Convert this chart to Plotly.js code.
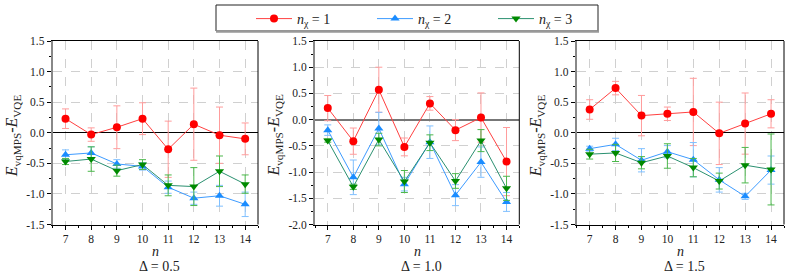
<!DOCTYPE html>
<html><head><meta charset="utf-8">
<script src="https://cdn.plot.ly/plotly-3.0.1.min.js"></script>
<style>html,body{margin:0;padding:0;background:#fff}#chart{width:792px;height:278px}</style>
</head><body><div id="chart"></div>
<script>
// ---- data ----
var nValues = [7, 8, 9, 10, 11, 12, 13, 14];
var seriesNames = ['<i>n</i><sub>χ</sub> = 1', '<i>n</i><sub>χ</sub> = 2', '<i>n</i><sub>χ</sub> = 3'];
var panelLabels = ['Δ = 0.5', 'Δ = 1.0', 'Δ = 1.5'];

var d05_chi1 = [0.23, -0.03, 0.09, 0.23, -0.27, 0.14, -0.04, -0.10];
var d05_chi1_err = [0.16, 0.11, 0.35, 0.26, 0.46, 0.59, 0.46, 0.26];
var d05_chi2 = [-0.36, -0.33, -0.51, -0.55, -0.89, -1.07, -1.03, -1.17];
var d05_chi2_err = [0.08, 0.10, 0.07, 0.06, 0.10, 0.10, 0.17, 0.20];
var d05_chi3 = [-0.47, -0.43, -0.62, -0.52, -0.86, -0.88, -0.63, -0.84];
var d05_chi3_err = [0.05, 0.20, 0.09, 0.08, 0.17, 0.31, 0.25, 0.15];

var d10_chi1 = [0.22, -0.41, 0.57, -0.52, 0.31, -0.20, 0.04, -0.80];
var d10_chi1_err = [0.24, 0.25, 0.43, 0.17, 0.13, 0.20, 0.47, 0.65];
var d10_chi2 = [-0.20, -1.10, -0.17, -1.23, -0.43, -1.44, -0.81, -1.57];
var d10_chi2_err = [0.10, 0.33, 0.31, 0.13, 0.31, 0.20, 0.29, 0.18];
var d10_chi3 = [-0.40, -1.28, -0.38, -1.18, -0.44, -1.17, -0.40, -1.31];
var d10_chi3_err = [0.03, 0.05, 0.12, 0.21, 0.15, 0.14, 0.21, 0.23];

var d15_chi1 = [0.38, 0.73, 0.28, 0.31, 0.34, -0.01, 0.15, 0.31];
var d15_chi1_err = [0.16, 0.11, 0.33, 0.11, 0.55, 0.51, 0.50, 0.23];
var d15_chi2 = [-0.26, -0.19, -0.45, -0.31, -0.44, -0.77, -1.04, -0.61];
var d15_chi2_err = [0.04, 0.10, 0.19, 0.10, 0.28, 0.20, 0.05, 0.23];
var d15_chi3 = [-0.35, -0.33, -0.49, -0.38, -0.57, -0.79, -0.53, -0.60];
var d15_chi3_err = [0.08, 0.14, 0.10, 0.20, 0.15, 0.13, 0.29, 0.58];

var yTicks15 = [-1.5, -1.0, -0.5, 0.0, 0.5, 1.0, 1.5];
var yTickText15 = ['-1.5', '-1.0', '-0.5', '0.0', '0.5', '1.0', '1.5'];
var yTicks20 = [-2.0, -1.5, -1.0, -0.5, 0.0, 0.5, 1.0, 1.5];
var yTickText20 = ['-2.0', '-1.5', '-1.0', '-0.5', '0.0', '0.5', '1.0', '1.5'];

// ---- styling ----
var W = 792, H = 278;
var FONT = 'Liberation Serif';
var styles = [
  {line: '#ff4040', marker: '#ff0000', err: '#ff9c9c', symbol: 'circle', size: 8},
  {line: '#3d9bff', marker: '#1a8cff', err: '#80c0ff', symbol: 'triangle-up', size: 8},
  {line: '#2a9070', marker: '#008a00', err: '#4cb84c', symbol: 'triangle-down', size: 8}
];
var panels = [
  {data: [[d05_chi1, d05_chi1_err], [d05_chi2, d05_chi2_err], [d05_chi3, d05_chi3_err]], px: [52.7, 258], range: [-1.5, 1.5], tv: yTicks15, tt: yTickText15, zc: '#000', zw: 1},
  {data: [[d10_chi1, d10_chi1_err], [d10_chi2, d10_chi2_err], [d10_chi3, d10_chi3_err]], px: [315, 519.3], range: [-2.0, 1.5], tv: yTicks20, tt: yTickText20, zc: '#777', zw: 2},
  {data: [[d15_chi1, d15_chi1_err], [d15_chi2, d15_chi2_err], [d15_chi3, d15_chi3_err]], px: [576.7, 784], range: [-1.5, 1.5], tv: yTicks15, tt: yTickText15, zc: '#000', zw: 1}
];
var yTopPx = 41, yBotPx = 224.5;
var yDom = [1 - yBotPx / H, 1 - yTopPx / H];

var traces = [];
var layout = {
  width: W, height: H,
  margin: {l: 0, r: 0, t: 0, b: 0},
  paper_bgcolor: '#fff', plot_bgcolor: '#fff',
  font: {family: FONT, size: 11, color: '#222'},
  showlegend: true,
  legend: {
    orientation: 'h', x: 251 / W, xanchor: 'left', y: 1 - 3 / H, yanchor: 'top',
    bgcolor: 'rgba(0,0,0,0)', borderwidth: 0,
    font: {family: FONT, size: 14, color: '#222'},
    itemwidth: 36, entrywidth: 70, entrywidthmode: 'pixels',
    traceorder: 'normal'
  },
  annotations: [],
  shapes: []
};

panels.forEach(function (p, i) {
  var ax = i === 0 ? '' : String(i + 1);
  var xd = [p.px[0] / W, p.px[1] / W];
  p.data.forEach(function (s, k) {
    var st = styles[k];
    traces.push({
      type: 'scatter', mode: 'lines+markers',
      x: nValues, y: s[0],
      xaxis: 'x' + ax, yaxis: 'y' + ax,
      name: seriesNames[k], legendgroup: 'g' + k, showlegend: i === 0,
      line: {color: st.line, width: 1},
      marker: {color: st.marker, symbol: st.symbol, size: st.size},
      error_y: {type: 'data', array: s[1], visible: true, color: st.err, thickness: 1, width: 3.5}
    });
  });
  layout['xaxis' + ax] = {
    domain: xd, anchor: 'y' + ax, range: [6.5, 14.5],
    tickmode: 'array', tickvals: nValues, ticktext: nValues.map(String),
    ticks: 'outside', ticklen: 4, tickwidth: 1, tickcolor: '#000',
    minor: {dtick: 0.5, tick0: 0.5, ticks: 'outside', ticklen: 2, tickcolor: '#000', showgrid: false},
    showline: true, linecolor: '#000', linewidth: 1, mirror: true,
    showgrid: true, gridcolor: '#d0d0d0', griddash: 'dash', gridwidth: 1,
    zeroline: false, tickfont: {family: FONT, size: 11.5, color: '#222'}
  };
  layout['yaxis' + ax] = {
    domain: yDom, anchor: 'x' + ax, range: p.range,
    tickmode: 'array', tickvals: p.tv, ticktext: p.tt,
    ticks: 'outside', ticklen: 4, tickwidth: 1, tickcolor: '#000',
    minor: {dtick: 0.25, tick0: 0, ticks: 'outside', ticklen: 2, tickcolor: '#000', showgrid: false},
    showline: true, linecolor: '#888', linewidth: 2, mirror: false,
    showgrid: true, gridcolor: '#d0d0d0', griddash: 'dash', gridwidth: 1,
    zeroline: true, zerolinecolor: p.zc, zerolinewidth: p.zw,
    tickfont: {family: FONT, size: 11.5, color: '#222'}
  };
  // right border of the frame
  layout.shapes.push({type: 'line', xref: 'x' + ax + ' domain', yref: 'y' + ax + ' domain',
    x0: 1, x1: 1, y0: 0, y1: 1, line: {color: '#000', width: 1}});
  var cx = (xd[0] + xd[1]) / 2;
  layout.annotations.push({xref: 'paper', yref: 'paper', x: cx, y: 1 - 251 / H, yanchor: 'middle', xanchor: 'center',
    text: '<i>n</i>', showarrow: false, font: {family: FONT, size: 14, color: '#222'}});
  layout.annotations.push({xref: 'paper', yref: 'paper', x: cx + 4 / W, y: 1 - 266 / H, yanchor: 'middle', xanchor: 'center',
    text: panelLabels[i], showarrow: false, font: {family: FONT, size: 14, color: '#222'}});
  layout.annotations.push({xref: 'paper', yref: 'paper', x: (p.px[0] - 40) / W, y: (yDom[0] + yDom[1]) / 2 - 0.01,
    xanchor: 'center', yanchor: 'middle', textangle: -90,
    text: '<i>E</i><sub>vqMPS</sub>-<i>E</i><sub>VQE</sub>', showarrow: false, font: {family: FONT, size: 16, color: '#222'}});
});

// legend frame
layout.shapes.push({type: 'rect', xref: 'paper', yref: 'paper', x0: 216 / W, x1: 598 / W, y0: 1 - 31 / H, y1: 1 - 5 / H,
  line: {color: '#222', width: 1}, fillcolor: 'rgba(0,0,0,0)', layer: 'above'});
layout.shapes.push({type: 'line', xref: 'paper', yref: 'paper', x0: 216 / W, x1: 599 / W, y0: 1 - 31.5 / H, y1: 1 - 31.5 / H,
  line: {color: '#999', width: 2.5}, layer: 'above'});

Plotly.newPlot('chart', traces, layout, {staticPlot: true, displayModeBar: false});
</script></body></html>
